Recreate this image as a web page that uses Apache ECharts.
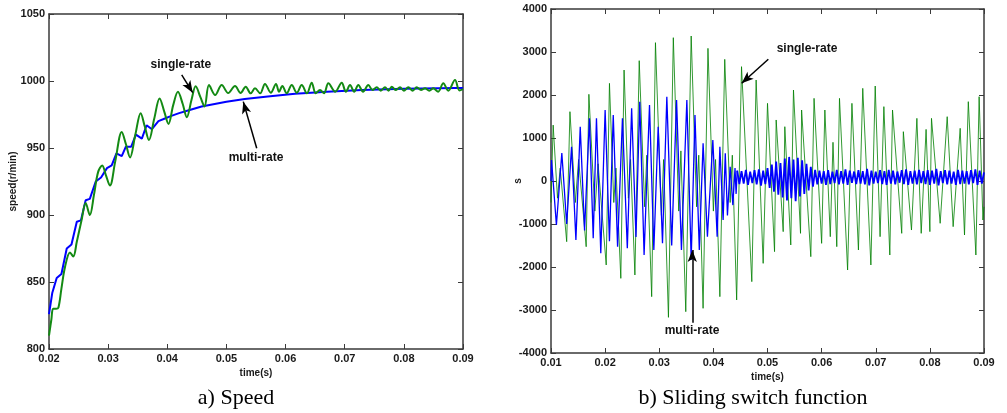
<!DOCTYPE html>
<html><head><meta charset="utf-8">
<script src="https://cdn.jsdelivr.net/npm/echarts@6/dist/echarts.min.js"></script>
<style>html,body{margin:0;padding:0;background:#fff}#c{width:1007px;height:413px}</style>
</head><body><div id="c"></div>
<script>
// ---- a) Speed (r/min) vs time (s) ----
const speedMulti = [
[0.0200,826],[0.02056,842],[0.0213,853],[0.0221,856],[0.0230,875],[0.0238,878],[0.0247,895],[0.0254,896],
[0.0262,911],[0.0269,912],[0.0279,925],[0.0288,928],[0.0298,935],[0.0306,937],[0.0314,946],[0.0323,944],
[0.0330,951],[0.0339,951],[0.0347,960],[0.0357,957],[0.0365,967],[0.0374,964],[0.0385,970],[0.0396,972],
[0.0407,974],[0.0420,976],[0.0435,978],[0.0458,981],[0.0500,984.5],[0.0531,986.5],[0.0570,988.5],[0.0616,990.5],
[0.0670,992],[0.0729,993.3],[0.0800,994.3],[0.0887,994.8],[0.0900,994.8]
];
const speedSingle = [
[0.0200,810],[0.0204,822],[0.0207,830],[0.0212,830],[0.0216,831],[0.0221,845],[0.0227,861],[0.02355,872],
[0.0241,869],[0.0247,880],[0.0255,896],[0.0262,909],[0.0269,900],[0.0276,915],[0.0283,932],[0.0290,937],
[0.0296,930],[0.0303,922],[0.0312,940],[0.0323,962],[0.0330,953],[0.0337,943],[0.0346,960],[0.0355,976],
[0.0362,966],[0.0369,956],[0.0378,972],[0.0387,987],[0.0395,977],[0.0402,968],[0.0410,982],[0.0418,992],
[0.0426,983],[0.0433,973],[0.0441,986],[0.0448,996],[0.0456,988],[0.0463,981],
[0.04705,997],[0.0481,989.5],[0.0492,997],[0.0503,991],[0.05145,996.3],[0.0524,991],[0.05326,995.8],[0.0541,990.8],
[0.05483,994.5],[0.0557,990.8],[0.05652,997.8],[0.0575,991.3],[0.05838,997.8],[0.0589,992],[0.05945,996.3],[0.0602,990.8],
[0.06104,997],[0.0619,991.3],[0.06273,997],[0.0636,990.8],[0.06442,998.7],[0.0651,990.8],[0.06582,993.3],[0.0665,990.8],
[0.06723,998.3],[0.0684,992],[0.06949,998.7],[0.0702,992],[0.0709,997],[0.0716,992],[0.0723,997],[0.0731,992],
[0.07399,997],[0.0747,993.3],[0.07541,995.3],[0.0761,992.8],[0.07681,995.3],[0.0774,992.8],[0.07795,995.8],[0.0786,993.3],
[0.07935,995.3],[0.0800,992.8],[0.08076,995.3],[0.0815,992.8],[0.08217,995.3],[0.0829,993.3],[0.08358,994.5],[0.0843,992.8],
[0.08498,994.5],[0.0858,992],[0.08667,998.3],[0.0875,992.8],[0.08865,1000.7],[0.0894,993],[0.0900,994]
];

// ---- b) Sliding switch function s vs time (s) ----
const sSingle = [
[0.0100,-500],[0.0104,1300],[0.0112,-400],[0.0117,300],[0.0129,-1411],[0.0135,1612],[0.0145,-500],[0.0151,500],
[0.0165,-1528],[0.0170,2016],[0.0181,-700],[0.0187,400],[0.0202,-1953],[0.0208,2271],[0.0216,-500],[0.0220,300],
[0.0229,-2264],[0.0235,2581],[0.0243,-400],[0.0247,500],[0.0255,-2186],[0.0263,2798],[0.0273,-600],[0.0277,600],
[0.0286,-2690],[0.0293,3217],[0.0304,-800],[0.0308,500],[0.0317,-3171],[0.0326,3333],[0.0336,-700],[0.0340,700],
[0.0349,-3039],[0.0359,3372],[0.0369,-600],[0.0373,600],[0.0381,-2961],[0.0390,3085],[0.0400,-700],[0.0404,500],
[0.0412,-2690],[0.0421,2829],[0.0431,-500],[0.0435,600],[0.0443,-2767],[0.0452,2659],
[0.0471,-2341],[0.0479,2349],[0.0492,-1915],[0.0500,1806],[0.0513,-1643],[0.0516,1419],[0.0529,-1178],[0.0532,1263],
[0.0543,-1488],[0.0548,2116],[0.0561,-1217],[0.0563,1651],[0.0580,-1760],[0.0586,1922],[0.0600,-1450],[0.0606,1651],
[0.0616,-1295],[0.0621,900],[0.0628,-1527],[0.0633,1922],[0.0648,-2070],[0.0656,1806],[0.0668,-1605],[0.0676,2155],
[0.0691,-1953],[0.0699,2209],[0.0708,-1295],[0.0715,1729],[0.0726,-1721],[0.0731,1651],[0.0748,-1217],[0.0751,1147],
[0.0766,-1140],[0.0776,1457],[0.0784,-1217],[0.0793,1200],[0.0800,-1178],[0.0803,1457],[0.0819,-984],[0.0832,1496],
[0.0843,-1062],[0.0856,1225],[0.0864,-1256],[0.0871,1845],[0.0885,-1721],[0.0891,1961],[0.0898,-907],[0.0900,-600]
];
const sMultiOsc = [
[0.0100,0],[0.0101,488],[0.0110,-1023],[0.0120,650],[0.0129,-1000],[0.0138,798],[0.0146,-1372],[0.0154,1263],
[0.0162,-1150],[0.0171,1457],[0.0178,-1333],[0.0184,1457],[0.0192,-1682],[0.0200,1651],[0.0208,-1400],[0.0215,1535],
[0.0223,-1527],[0.0232,1457],[0.0241,-1566],[0.0249,1690],[0.0257,-1300],[0.0264,1845],[0.0272,-1721],[0.0282,1767],
[0.0290,-1605],[0.0298,1263],[0.0306,-1450],[0.0314,1961],[0.0323,-1500],[0.0332,1884],[0.0341,-1605],[0.0351,1884],
[0.0359,-1837],[0.0366,1535],[0.0374,-1605],[0.0381,876],[0.0389,-1295],[0.0399,954],[0.0407,-1295],[0.0412,798],
[0.0418,-907],[0.0422,643],[0.0426,-800],[0.0431,333],[0.0436,-560],[0.0440,300],[0.0442,-300],[0.0444,240]
];
const sMultiBand = [
[0.0444,240],[0.0448,-70],[0.0452,230],[0.0456,-60],[0.0460,260],[0.0464,-90],[0.0468,220],[0.0472,-50],
[0.0476,250],[0.0480,-80],[0.0484,270],[0.0488,-110],[0.0492,240],[0.0496,-70],[0.0500,300],[0.0504,-160],
[0.0508,380],[0.0512,-250],[0.0516,450],[0.0520,-320],[0.0524,420],[0.0528,-380],[0.0532,520],[0.0536,-450],
[0.0540,560],[0.0544,-400],[0.0548,500],[0.0552,-470],[0.0556,540],[0.0560,-360],[0.0564,480],[0.0568,-300],
[0.0572,400],[0.0576,-220],[0.0580,330],[0.0584,-130],[0.0588,260],[0.0592,-80],[0.0596,240],[0.0600,-60],
[0.0604,230],[0.0608,-90],[0.0612,250],[0.0616,-70],[0.0620,220],[0.0624,-50],[0.0628,260],[0.0632,-80],
[0.0636,230],[0.0640,-60],[0.0644,270],[0.0648,-90],[0.0652,240],[0.0656,-40],[0.0660,220],[0.0664,-70],
[0.0668,250],[0.0672,-60],[0.0676,230],[0.0680,-80],[0.0684,280],[0.0688,-100],[0.0692,240],[0.0696,-60],
[0.0700,220],[0.0704,-50],[0.0708,250],[0.0712,-70],[0.0716,230],[0.0720,-90],[0.0724,260],[0.0728,-60],
[0.0732,240],[0.0736,-80],[0.0740,220],[0.0744,-40],[0.0748,250],[0.0752,-70],[0.0756,270],[0.0760,-90],
[0.0764,230],[0.0768,-60],[0.0772,240],[0.0776,-80],[0.0780,260],[0.0784,-50],[0.0788,230],[0.0792,-70],
[0.0796,250],[0.0800,-90],[0.0804,240],[0.0808,-60],[0.0812,280],[0.0816,-100],[0.0820,230],[0.0824,-50],
[0.0828,250],[0.0832,-80],[0.0836,240],[0.0840,-60],[0.0844,220],[0.0848,-90],[0.0852,260],[0.0856,-70],
[0.0860,240],[0.0864,-60],[0.0868,230],[0.0872,-80],[0.0876,250],[0.0880,-50],[0.0884,270],[0.0888,-90],
[0.0892,240],[0.0896,-60],[0.0900,200]
];

const FONT = "'Liberation Sans', Arial, sans-serif";
const AX = '#3a3a3a';
const lbl = {fontFamily: FONT, fontWeight: 'bold', fontSize: 11, color: '#1a1a1a'};
const fmt2 = v => v.toFixed(2);
const fmt0 = v => String(v);

function xAx(grid, min, max, pos, showLabel, name) {
  return {
    type: 'value', gridIndex: grid, min: min, max: max, interval: 0.01, position: pos,
    axisLine: {show: true, onZero: false, lineStyle: {color: AX, width: 1.5}},
    axisTick: {show: true, inside: true, length: 5, lineStyle: {color: AX, width: 1}},
    axisLabel: Object.assign({show: showLabel, margin: 4, formatter: fmt2}, lbl),
    splitLine: {show: false},
    name: name || '', nameLocation: 'middle', nameGap: 19, nameMoveOverlap: false,
    nameTextStyle: {fontFamily: FONT, fontWeight: 'bold', fontSize: 10, color: '#1a1a1a'}
  };
}
function yAx(grid, min, max, interval, pos, showLabel, name, gap) {
  return {
    type: 'value', gridIndex: grid, min: min, max: max, interval: interval, position: pos,
    axisLine: {show: true, onZero: false, lineStyle: {color: AX, width: 1.5}},
    axisTick: {show: true, inside: true, length: 5, lineStyle: {color: AX, width: 1}},
    axisLabel: Object.assign({show: showLabel, margin: 4, formatter: fmt0}, lbl),
    splitLine: {show: false},
    name: name || '', nameLocation: 'middle', nameGap: gap || 30, nameRotate: 90, nameMoveOverlap: false,
    nameTextStyle: {fontFamily: FONT, fontWeight: 'bold', fontSize: 10, color: '#1a1a1a'}
  };
}
const annoText = {fontFamily: FONT, fontWeight: 'bold', fontSize: 12, color: '#111'};
function marks(arrows, texts) {
  return {
    markLine: {
      silent: true, animation: false, symbol: ['none', 'arrow'], symbolSize: 11,
      lineStyle: {color: '#000', width: 1.5, type: 'solid'}, itemStyle: {color: '#000'},
      label: {show: false},
      emphasis: {disabled: true},
      data: arrows.map(a => [{coord: a[0], symbol: 'none'}, {coord: a[1], symbol: 'arrow', symbolSize: [7, 12]}])
    },
    markPoint: {
      silent: true, animation: false, symbol: 'circle', symbolSize: 1,
      itemStyle: {color: 'rgba(0,0,0,0)'},
      data: texts.map(t => ({coord: t[0], label: Object.assign({show: true, position: 'inside', formatter: t[1]}, annoText)}))
    }
  };
}

const chart = echarts.init(document.getElementById('c'), null, {renderer: 'canvas'});
chart.setOption({
  backgroundColor: '#fff',
  animation: false,
  grid: [
    {left: 49, top: 14, width: 414, height: 335},
    {left: 551, top: 9, width: 433, height: 344}
  ],
  xAxis: [
    xAx(0, 0.02, 0.09, 'bottom', true, 'time(s)'),
    xAx(0, 0.02, 0.09, 'top', false),
    xAx(1, 0.01, 0.09, 'bottom', true, 'time(s)'),
    xAx(1, 0.01, 0.09, 'top', false)
  ],
  yAxis: [
    yAx(0, 800, 1050, 50, 'left', true, 'speed(r/min)', 31),
    yAx(0, 800, 1050, 50, 'right', false),
    yAx(1, -4000, 4000, 1000, 'left', true, 's', 28),
    yAx(1, -4000, 4000, 1000, 'right', false)
  ],
  series: [
    {type: 'line', name: 'multi-rate', xAxisIndex: 0, yAxisIndex: 0, data: speedMulti, showSymbol: false,
     lineStyle: {color: '#0000ff', width: 2}, silent: true},
    Object.assign({type: 'line', name: 'single-rate', xAxisIndex: 0, yAxisIndex: 0, data: speedSingle, showSymbol: false,
     smooth: 0.35, lineStyle: {color: '#138a13', width: 2}, silent: true},
     marks([[[0.04244, 1004.5], [0.0443, 991.3]], [[0.05512, 949.8], [0.05285, 984.6]]],
           [[[0.0423, 1012], 'single-rate'], [[0.0550, 943], 'multi-rate']])),
    {type: 'line', name: 'single-rate s', xAxisIndex: 2, yAxisIndex: 2, data: sSingle, showSymbol: false,
     lineStyle: {color: 'rgba(0,128,0,0.8)', width: 1}, silent: true},
    Object.assign({type: 'line', name: 'multi-rate s', xAxisIndex: 2, yAxisIndex: 2, data: sMultiOsc, showSymbol: false,
     lineStyle: {color: '#0000ff', width: 1.3}, silent: true},
     marks([[[0.05015, 2830], [0.04523, 2272]], [[0.0361, -3295], [0.0361, -1605]]],
           [[[0.0573, 3070], 'single-rate'], [[0.03605, -3488], 'multi-rate']])),
    {type: 'line', name: 'multi-rate s band', xAxisIndex: 2, yAxisIndex: 2, data: sMultiBand, showSymbol: false,
     lineStyle: {color: '#0000ff', width: 1.8}, silent: true}
  ],
  graphic: [
    {type: 'text', x: 236, y: 398, style: {text: 'a) Speed', font: "22px 'Liberation Serif', 'Times New Roman', serif", fill: '#000', align: 'center', verticalAlign: 'middle'}},
    {type: 'text', x: 753, y: 398, style: {text: 'b) Sliding switch function', font: "22px 'Liberation Serif', 'Times New Roman', serif", fill: '#000', align: 'center', verticalAlign: 'middle'}}
  ]
});
</script>
</body></html>
